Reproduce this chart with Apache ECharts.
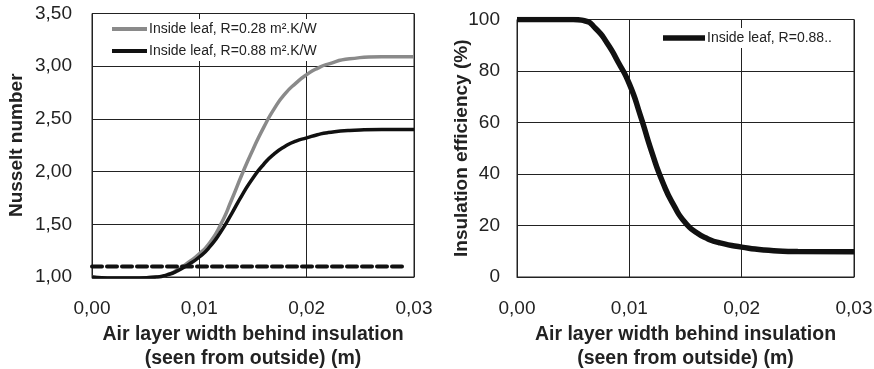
<!DOCTYPE html>
<html>
<head>
<meta charset="utf-8">
<script src="https://cdn.jsdelivr.net/npm/echarts@6/dist/echarts.min.js"></script>
<style>
  html, body { margin: 0; padding: 0; background: #fff; }
  #chart { width: 874px; height: 369px; }
</style>
</head>
<body>
<div id="chart"></div>
<script>
// left chart: Nusselt number
var xLeft = [0, 0.002, 0.004, 0.006, 0.007, 0.008, 0.009, 0.010, 0.011, 0.012, 0.013, 0.014, 0.015, 0.016, 0.017, 0.018, 0.019, 0.020, 0.021, 0.022, 0.024, 0.027, 0.030];
var nuR088 = [1.00, 0.99, 0.99, 1.00, 1.02, 1.06, 1.12, 1.19, 1.29, 1.43, 1.60, 1.78, 1.94, 2.07, 2.17, 2.24, 2.29, 2.32, 2.35, 2.37, 2.39, 2.40, 2.40];
var nuR028 = [1.00, 0.99, 0.99, 1.00, 1.02, 1.07, 1.14, 1.22, 1.33, 1.50, 1.73, 1.98, 2.21, 2.42, 2.60, 2.74, 2.84, 2.92, 2.98, 3.02, 3.07, 3.09, 3.09];
var dashX = [0, 0.0292];
var dashY = [1.10, 1.10];

// right chart: insulation efficiency
var xRight = [0, 0.005, 0.006, 0.007, 0.008, 0.009, 0.010, 0.011, 0.012, 0.013, 0.014, 0.015, 0.016, 0.017, 0.018, 0.020, 0.022, 0.025, 0.030];
var effR088 = [100, 100, 99.5, 96.5, 91, 83.5, 75, 62.5, 48.5, 36.5, 27.5, 21, 17.2, 14.8, 13.3, 11.6, 10.5, 9.9, 9.8];

var xName = 'Air layer width behind insulation\n(seen from outside) (m)';
var nameLeft = 'Nusselt number';
var nameRight = 'Insulation efficiency (%)';
var legLeft = ['Inside leaf, R=0.28 m².K/W', 'Inside leaf, R=0.88 m².K/W'];
var legRight = ['Inside leaf, R=0.88..'];

function pairs(xs, ys) {
  var out = [];
  for (var i = 0; i < xs.length; i++) out.push([xs[i], ys[i]]);
  return out;
}
function comma(v) { return v.toFixed(2).replace('.', ','); }

var font = 'Liberation Sans, Arial, sans-serif';
var ink = '#222';

function xAxisOf(gi) {
  return {
    type: 'value', gridIndex: gi, min: 0, max: 0.03, interval: 0.01,
    name: xName, nameLocation: 'middle', nameGap: 34,
    nameTextStyle: { fontFamily: font, fontSize: 19.5, fontWeight: 'bold', color: ink, lineHeight: 24 },
    axisLine: { show: true, lineStyle: { color: ink, width: 1 } },
    axisTick: { show: false },
    axisLabel: { formatter: comma, fontFamily: font, fontSize: 19, color: ink, margin: 22 },
    splitLine: { show: true, lineStyle: { color: ink, width: 1 } }
  };
}

var myChart = echarts.init(document.getElementById('chart'));
myChart.setOption({
  animation: false,
  backgroundColor: '#fff',
  grid: [
    { left: 92, top: 13.5, width: 322, height: 263.5, show: true, borderColor: ink, borderWidth: 1, outerBoundsMode: 'none', containLabel: false },
    { left: 517, top: 19.5, width: 337, height: 257.5, show: true, borderColor: ink, borderWidth: 1, outerBoundsMode: 'none', containLabel: false }
  ],
  xAxis: [xAxisOf(0), xAxisOf(1)],
  yAxis: [
    {
      type: 'value', gridIndex: 0, min: 1, max: 3.5, interval: 0.5,
      name: nameLeft, nameLocation: 'middle', nameGap: 66, nameMoveOverlap: false,
      nameTextStyle: { fontFamily: font, fontSize: 19, fontWeight: 'bold', color: ink },
      axisLine: { show: true, lineStyle: { color: ink } },
      axisTick: { show: false },
      axisLabel: { formatter: comma, fontFamily: font, fontSize: 19, color: ink, margin: 20 },
      splitLine: { show: true, lineStyle: { color: ink, width: 1 } }
    },
    {
      type: 'value', gridIndex: 1, min: 0, max: 100, interval: 20,
      name: nameRight, nameLocation: 'middle', nameGap: 46, nameMoveOverlap: false,
      nameTextStyle: { fontFamily: font, fontSize: 19, fontWeight: 'bold', color: ink },
      axisLine: { show: true, lineStyle: { color: ink } },
      axisTick: { show: false },
      axisLabel: { fontFamily: font, fontSize: 19, color: ink, margin: 17 },
      splitLine: { show: true, lineStyle: { color: ink, width: 1 } }
    }
  ],
  legend: [
    {
      data: legLeft, orient: 'vertical', left: 108, top: 19,
      icon: 'rect', itemWidth: 35, itemHeight: 4, itemGap: 8,
      padding: [3, 8, 3, 4], backgroundColor: '#fff',
      textStyle: { fontFamily: font, fontSize: 14, color: ink, padding: [0, 0, 0, -3] }
    },
    {
      data: legRight, left: 659, top: 28,
      icon: 'rect', itemWidth: 42, itemHeight: 5.5,
      padding: [3, 8, 3, 4], backgroundColor: '#fff',
      textStyle: { fontFamily: font, fontSize: 14, color: ink, padding: [0, 0, 0, -3] }
    }
  ],
  series: [
    {
      name: legLeft[0], type: 'line', xAxisIndex: 0, yAxisIndex: 0,
      data: pairs(xLeft, nuR028), smooth: 0.6, symbol: 'none',
      lineStyle: { color: '#8a8a8a', width: 3.5 }, itemStyle: { color: '#8a8a8a' }
    },
    {
      name: legLeft[1], type: 'line', xAxisIndex: 0, yAxisIndex: 0,
      data: pairs(xLeft, nuR088), smooth: 0.6, symbol: 'none',
      lineStyle: { color: '#111', width: 3.5 }, itemStyle: { color: '#111' }
    },
    {
      name: 'limit', type: 'line', xAxisIndex: 0, yAxisIndex: 0,
      data: pairs(dashX, dashY), symbol: 'none',
      lineStyle: { color: '#111', width: 4, type: [10, 5], cap: 'round' }
    },
    {
      name: legRight[0], type: 'line', xAxisIndex: 1, yAxisIndex: 1,
      data: pairs(xRight, effR088), smooth: 0.6, symbol: 'none',
      lineStyle: { color: '#111', width: 5.5 }, itemStyle: { color: '#111' }
    }
  ]
});
</script>
</body>
</html>
